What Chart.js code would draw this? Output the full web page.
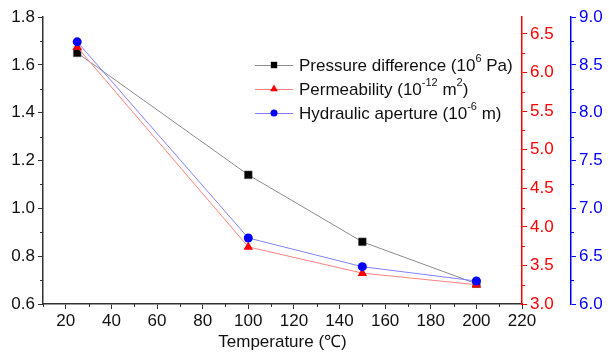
<!DOCTYPE html>
<html>
<head>
<meta charset="utf-8">
<script src="https://cdn.jsdelivr.net/npm/chart.js@4.4.0/dist/chart.umd.min.js"></script>
<style>
  html, body { margin: 0; padding: 0; background: #fff; }
  canvas { display: block; }
</style>
</head>
<body>
<canvas id="chart" width="609" height="353"></canvas>
<script>
const TEMPS = [25, 100, 150, 200];
const PRESSURE = [1.65, 1.14, 0.86, 0.685];      // 10^6 Pa, left axis
const PERMEABILITY = [6.33, 3.74, 3.40, 3.25];   // 10^-12 m2, red axis
const APERTURE = [8.74, 6.69, 6.39, 6.24];       // 10^-6 m, blue axis

const X_TICKS = [20, 40, 60, 80, 100, 120, 140, 160, 180, 200, 220];
const LEFT_TICKS = [0.6, 0.8, 1.0, 1.2, 1.4, 1.6, 1.8];
const RED_TICKS = [3.0, 3.5, 4.0, 4.5, 5.0, 5.5, 6.0, 6.5];
const BLUE_TICKS = [6.0, 6.5, 7.0, 7.5, 8.0, 8.5, 9.0];

const FONT = "'Liberation Sans', Arial, sans-serif";
const RED = "#ff0000";
const BLUE = "#0000ff";

function pts(vals) {
  return vals.map((v, i) => ({ x: TEMPS[i], y: v }));
}

function setTicks(list) {
  return s => { s.ticks = list.map(v => ({ value: v })); };
}

// minor ticks halfway between the majors
const minorTicks = {
  id: "minorTicks",
  afterDraw(chart) {
    const ctx = chart.ctx;
    const a = chart.chartArea;
    const draw = (scale, color, step, side) => {
      ctx.save();
      ctx.strokeStyle = color;
      ctx.lineWidth = 1;
      const ticks = scale.ticks.map(t => t.value);
      const mids = ticks.map(t => t - step / 2);
      mids.push(ticks[ticks.length - 1] + step / 2);
      mids.forEach(m => {
        if (m < scale.min - 1e-9 || m > scale.max + 1e-9) return;
        const p = Math.round(scale.getPixelForValue(m)) + 0.5;
        ctx.beginPath();
        if (side === "bottom") { ctx.moveTo(p, a.bottom); ctx.lineTo(p, a.bottom + 3); }
        if (side === "left") { ctx.moveTo(scale.right, p); ctx.lineTo(scale.right - 3, p); }
        if (side === "right") { ctx.moveTo(scale.left, p); ctx.lineTo(scale.left + 3, p); }
        ctx.stroke();
      });
      ctx.restore();
    };
    draw(chart.scales.x, "#333", 20, "bottom");
    draw(chart.scales.y, "#333", 0.2, "left");
    draw(chart.scales.yR, RED, 0.5, "right");
    draw(chart.scales.yB, BLUE, 0.5, "right");
  }
};

// legend with line + marker and superscripts
const customLegend = {
  id: "customLegend",
  afterDatasetsDraw(chart) {
    const ctx = chart.ctx;
    const rows = [
      { ds: 0, y: 65, parts: [["Pressure difference (10", 0], ["6", 1], [" Pa)", 0]] },
      { ds: 1, y: 89, parts: [["Permeability (10", 0], ["-12", 1], [" m", 0], ["2", 1], [")", 0]] },
      { ds: 2, y: 113, parts: [["Hydraulic aperture (10", 0], ["-6", 1], [" m)", 0]] }
    ];
    ctx.save();
    rows.forEach(r => {
      const ds = chart.data.datasets[r.ds];
      ctx.strokeStyle = ds.borderColor;
      ctx.lineWidth = 1;
      ctx.beginPath();
      ctx.moveTo(255, r.y + 0.5);
      ctx.lineTo(293, r.y + 0.5);
      ctx.stroke();
      ctx.fillStyle = ds.pointBackgroundColor;
      Chart.helpers.drawPoint(ctx, {
        pointStyle: ds.pointStyle,
        radius: ds.legendRadius,
        borderWidth: 0
      }, 274, r.y);
      let x = 299;
      ctx.fillStyle = "#111";
      ctx.textBaseline = "middle";
      r.parts.forEach(([t, sup]) => {
        ctx.font = (sup ? "11px " : "17px ") + FONT;
        ctx.fillText(t, x, sup ? r.y - 6 : r.y + 1);
        x += ctx.measureText(t).width;
      });
    });
    ctx.restore();
  }
};

const axisGrid = color => ({
  drawOnChartArea: false,
  drawTicks: true,
  tickLength: 5,
  tickColor: color,
  color: color
});

new Chart(document.getElementById("chart"), {
  type: "line",
  data: {
    datasets: [
      {
        label: "Pressure difference",
        data: pts(PRESSURE),
        yAxisID: "y",
        borderColor: "#8a8a8a",
        borderWidth: 1,
        pointStyle: "rect",
        pointRadius: 5.5,
        legendRadius: 4.5,
        pointBackgroundColor: "#000",
        pointBorderColor: "#666",
        pointBorderWidth: 0.5,
        order: 3
      },
      {
        label: "Permeability",
        data: pts(PERMEABILITY),
        yAxisID: "yR",
        borderColor: "#ff8080",
        borderWidth: 1,
        pointStyle: "triangle",
        pointRadius: 5.5,
        legendRadius: 4.5,
        pointBackgroundColor: RED,
        pointBorderColor: RED,
        pointBorderWidth: 0,
        order: 2
      },
      {
        label: "Hydraulic aperture",
        data: pts(APERTURE),
        yAxisID: "yB",
        borderColor: "#8080ff",
        borderWidth: 1,
        pointStyle: "circle",
        pointRadius: 4.5,
        legendRadius: 3.5,
        pointBackgroundColor: BLUE,
        pointBorderColor: BLUE,
        pointBorderWidth: 0,
        order: 1
      }
    ]
  },
  options: {
    responsive: false,
    animation: false,
    layout: { padding: { top: 17, right: 0, bottom: 0, left: 0 } },
    plugins: { legend: { display: false }, tooltip: { enabled: false } },
    scales: {
      x: {
        type: "linear",
        position: "bottom",
        min: 10,
        max: 220,
        afterBuildTicks: setTicks(X_TICKS),
        afterFit: s => { s.height = 49; },
        grid: axisGrid("#333"),
        border: { color: "#333", width: 1.5 },
        ticks: { color: "#111", font: { family: FONT, size: 17 }, padding: 2, maxRotation: 0 },
        title: {
          display: true,
          text: "Temperature (\u2103)",
          color: "#111",
          font: { family: FONT, size: 17 },
          padding: { top: 0, bottom: 0 }
        }
      },
      y: {
        position: "left",
        min: 0.6,
        max: 1.8,
        afterBuildTicks: setTicks(LEFT_TICKS),
        afterFit: s => { s.width = 43; },
        grid: axisGrid("#333"),
        border: { color: "#333", width: 1.5 },
        ticks: { color: "#111", font: { family: FONT, size: 17 }, padding: 3, callback: v => v.toFixed(1) }
      },
      yR: {
        position: "right",
        weight: 0,
        min: 3.0,
        max: 6.72,
        afterBuildTicks: setTicks(RED_TICKS),
        afterFit: s => { s.width = 49; },
        grid: axisGrid(RED),
        border: { color: RED, width: 1.5 },
        ticks: { color: RED, font: { family: FONT, size: 17 }, padding: 3, callback: v => v.toFixed(1) }
      },
      yB: {
        position: "right",
        weight: 1,
        min: 6.0,
        max: 9.0,
        afterBuildTicks: setTicks(BLUE_TICKS),
        afterFit: s => { s.width = 38; },
        grid: axisGrid(BLUE),
        border: { color: BLUE, width: 1.5 },
        ticks: { color: BLUE, font: { family: FONT, size: 17 }, padding: 3, callback: v => v.toFixed(1) }
      }
    }
  },
  plugins: [minorTicks, customLegend]
});
</script>
</body>
</html>
